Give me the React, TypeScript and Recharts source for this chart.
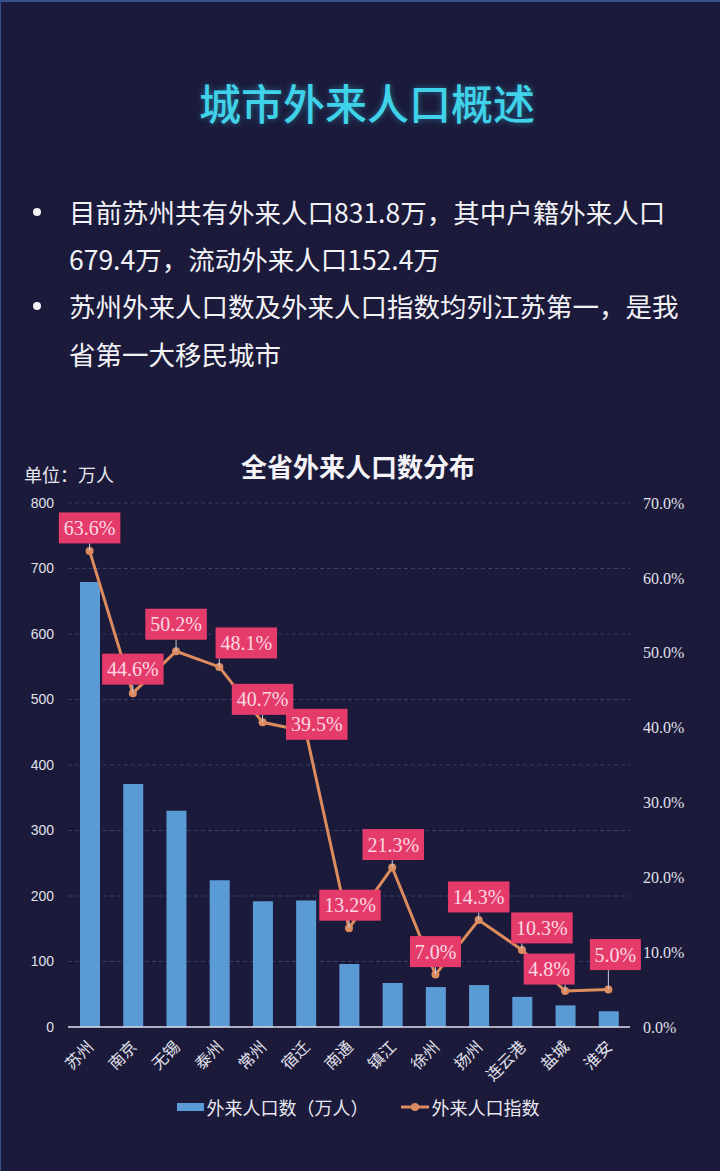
import React from 'react';
import { ComposedChart, Bar, Line, XAxis, YAxis, CartesianGrid, LabelList, Legend } from 'recharts';

const cities = ['苏州', '南京', '无锡', '泰州', '常州', '宿迁', '南通', '镇江', '徐州', '扬州', '连云港', '盐城', '淮安'];
const populations = [679.4, 371, 330, 224, 192, 193, 96, 67, 61, 64, 46, 33, 24];
const indexPct = [63.6, 44.6, 50.2, 48.1, 40.7, 39.5, 13.2, 21.3, 7.0, 14.3, 10.3, 4.8, 5.0];
const leftTicks = [0, 100, 200, 300, 400, 500, 600, 700, 800];
const rightTicks = [0, 10, 20, 30, 40, 50, 60, 70];

// label box offsets relative to each point (layout only)
const labelOffsets: [number, number][] = [
  [0, -23], [0, -24], [0, -27], [27, -24], [0, -23], [11, -7], [1, -23],
  [1, -23], [0, -23], [0, -23], [20, -22], [-16, -22], [7, -35],
];

const data = cities.map((c, i) => ({ city: c, pop: populations[i], idx: indexPct[i] }));

const BG = '#1b1a3a';
const BAR = '#5b9bd5';
const LINE = '#dc8c5e';
const PINK = '#e53b6b';

const CityTick = (props: any) => {
  const { x, y, payload } = props;
  return (
    <g transform={`translate(${x + 5},${y + 13})`}>
      <text textAnchor="end" transform="rotate(-45)" fill="#e2e2ec" fontSize={16} fontFamily="'Noto Sans CJK SC', sans-serif">
        {payload.value}
      </text>
    </g>
  );
};

const PctLabel = (props: any) => {
  const { x, y, value, index } = props;
  if (x == null || y == null) return null;
  const [dx, dy] = labelOffsets[index] || [0, -23];
  const txt = `${Number(value).toFixed(1)}%`;
  const w = txt.length * 10.5 + 9;
  const h = 31;
  const cx = x + dx;
  const cy = y + dy;
  const bx = cx - w / 2;
  const by = cy - h / 2;
  const nx = Math.max(bx, Math.min(x, bx + w));
  const ny = Math.max(by, Math.min(y, by + h));
  const dist = Math.hypot(nx - x, ny - y);
  return (
    <g>
      {dist > 6 && <line x1={x} y1={y} x2={nx} y2={ny} stroke="#c9c9dc" strokeWidth={1} />}
      <rect x={bx} y={by} width={w} height={h} fill={PINK} />
      <text x={cx} y={cy + 7} textAnchor="middle" fill="#fbd7e2" fontSize={20} fontFamily="'Liberation Serif', serif">
        {txt}
      </text>
    </g>
  );
};

const LegendContent = () => (
  <div style={{ height: 40, display: 'flex', alignItems: 'center', justifyContent: 'center', fontFamily: "'Noto Sans CJK SC', sans-serif", fontSize: 18, color: '#e8e8f0', paddingLeft: 8, boxSizing: 'border-box' }}>
    <div style={{ display: 'flex', alignItems: 'center', marginRight: 32 }}>
      <div style={{ width: 27, height: 8, background: BAR, marginRight: 3 }} />
      <span>外来人口数（万人）</span>
    </div>
    <div style={{ display: 'flex', alignItems: 'center' }}>
      <svg width={28} height={10} style={{ marginRight: 3 }}>
        <line x1={0} y1={5} x2={28} y2={5} stroke={LINE} strokeWidth={3} />
        <circle cx={14} cy={5} r={4} fill={LINE} />
      </svg>
      <span>外来人口指数</span>
    </div>
  </div>
);

export default function App() {
  return (
    <div style={{ position: 'absolute', left: 0, top: 0, width: 720, height: 1171, background: BG, borderTop: '2px solid #34508c', borderLeft: '1px solid #34508c', boxSizing: 'border-box', overflow: 'hidden', fontFamily: "'Noto Sans CJK SC', sans-serif" }}>
      <div style={{ position: 'absolute', left: 0, width: 720, top: 74, textAlign: 'center', fontSize: 42, lineHeight: '52px', color: '#3fd2e8', textShadow: '0 0 6px rgba(60,200,235,0.45)', fontWeight: 500, paddingLeft: 12, boxSizing: 'border-box' }}>
        城市外来人口概述
      </div>
      {[
        { y: 210, bullet: true, t: '目前苏州共有外来人口831.8万，其中户籍外来人口' },
        { y: 257, bullet: false, t: '679.4万，流动外来人口152.4万' },
        { y: 304, bullet: true, t: '苏州外来人口数及外来人口指数均列江苏第一，是我' },
        { y: 352, bullet: false, t: '省第一大移民城市' },
      ].map((l, i) => (
        <React.Fragment key={i}>
          {l.bullet && (
            <div style={{ position: 'absolute', left: 32, top: l.y - 4, width: 8, height: 8, borderRadius: 4, background: '#f2f2f6' }} />
          )}
          <div style={{ position: 'absolute', left: 68, top: l.y - 20, fontSize: 26.5, lineHeight: '40px', color: '#f2f2f6', whiteSpace: 'nowrap' }}>
            {l.t}
          </div>
        </React.Fragment>
      ))}
      <div style={{ position: 'absolute', left: 0, width: 720, top: 448, textAlign: 'center', fontSize: 26, lineHeight: '32px', color: '#f4f4f8', fontWeight: 700, paddingRight: 6, boxSizing: 'border-box' }}>
        全省外来人口数分布
      </div>
      <div style={{ position: 'absolute', left: 23, top: 460, fontSize: 18, lineHeight: '24px', color: '#e8e8f0' }}>单位：万人</div>
      <div style={{ position: 'absolute', left: -1, top: 478 }}>
        <ComposedChart width={720} height={660} data={data} margin={{ top: 23, right: 20, left: 8, bottom: 13 }}>
          <CartesianGrid yAxisId="left" vertical={false} stroke="#353d6a" strokeDasharray="4 3" />
          <XAxis dataKey="city" interval={0} tick={<CityTick />} tickLine={false} axisLine={{ stroke: '#dcdce8', strokeWidth: 1.5 }} height={60} />
          <YAxis yAxisId="left" domain={[0, 800]} ticks={leftTicks} width={60} axisLine={false} tickLine={false} tickMargin={8} tick={{ fill: '#e0e0ea', fontSize: 14, fontFamily: "'Liberation Sans', sans-serif" }} />
          <YAxis yAxisId="right" orientation="right" domain={[0, 70]} ticks={rightTicks} width={70} axisLine={false} tickLine={false} tickMargin={7} tickFormatter={(v: number) => `${v.toFixed(1)}%`} tick={{ fill: '#e0e0ea', fontSize: 16, fontFamily: "'Liberation Serif', serif" }} />
          <Bar yAxisId="left" dataKey="pop" name="外来人口数（万人）" fill={BAR} barSize={20} isAnimationActive={false} />
          <Line yAxisId="right" dataKey="idx" name="外来人口指数" stroke={LINE} strokeWidth={3} dot={{ r: 4, fill: LINE, stroke: LINE, strokeWidth: 0 }} isAnimationActive={false}>
            <LabelList dataKey="idx" content={<PctLabel />} />
          </Line>
          <Legend verticalAlign="bottom" content={<LegendContent />} />
        </ComposedChart>
      </div>
    </div>
  );
}
